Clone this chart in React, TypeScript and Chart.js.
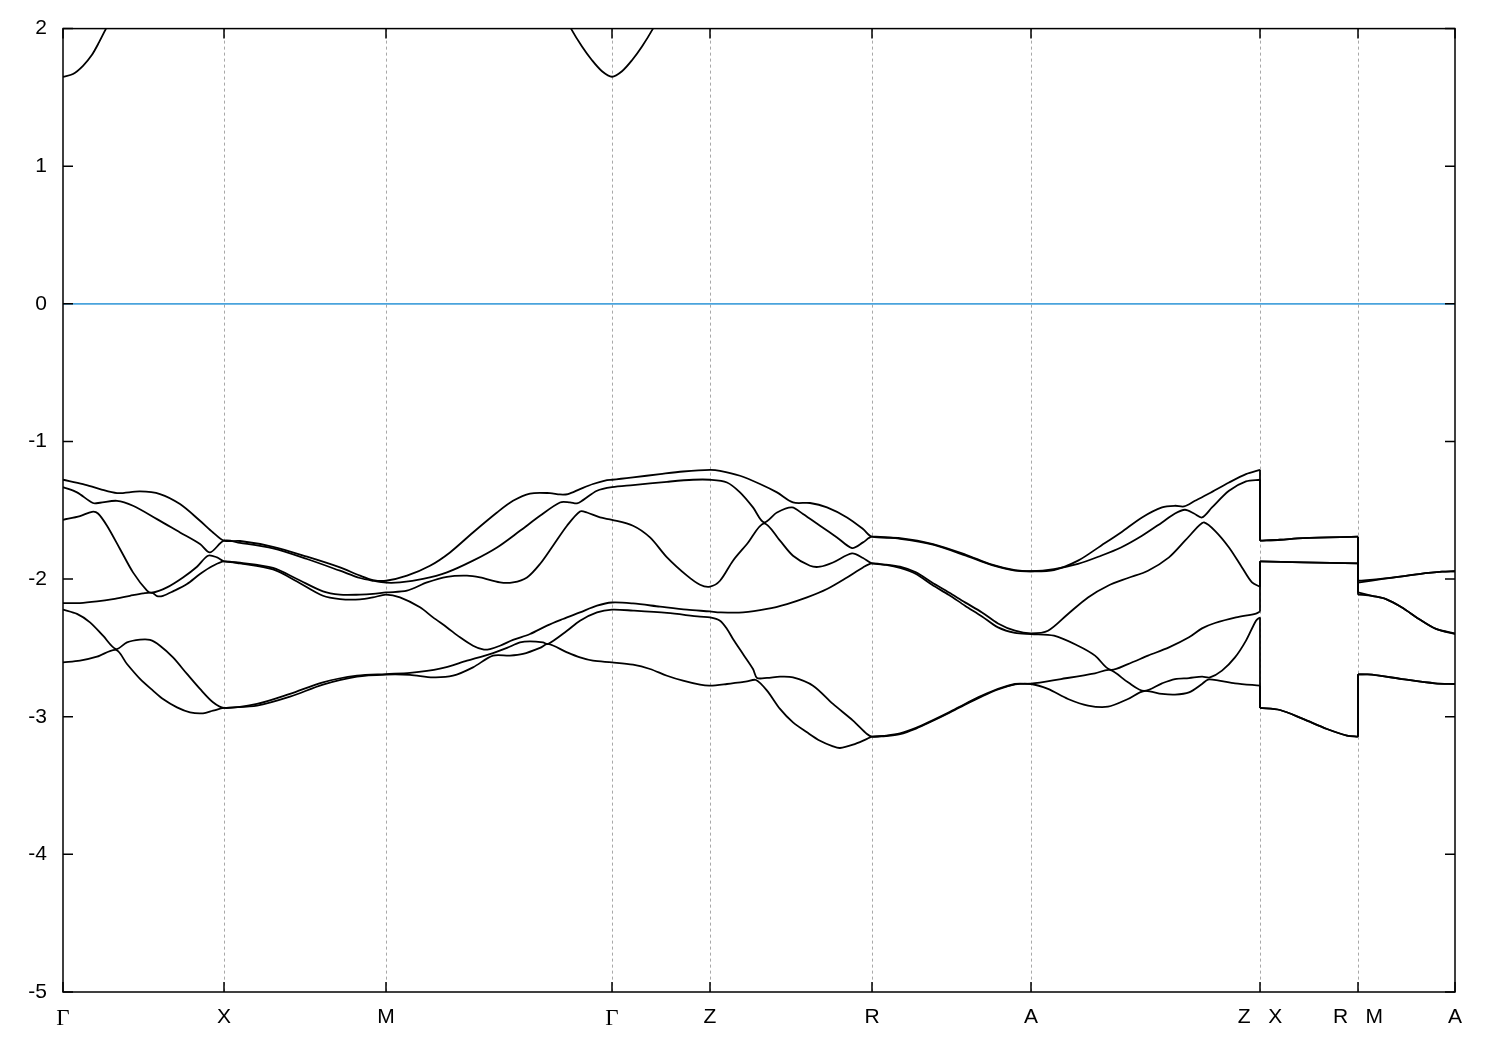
import React, { useEffect, useRef } from 'react';
import { Chart, registerables } from 'chart.js';

Chart.register(...registerables);

// High-symmetry points along the k-path
const kTicks = [0, 161, 323, 549, 647, 809, 968, 1197, 1295, 1392];
const kLabels = ['Γ', 'X', 'M', 'Γ', 'Z', 'R', 'A', 'Z   X', 'R   M', 'A'];
const yTicks = [-5, -4, -3, -2, -1, 0, 1, 2];

// Valence bands (energy in eV vs k-path coordinate)
const band6K = [0, 20, 37, 54, 77, 97, 117, 137, 150, 161, 177, 210, 244, 277, 297, 310, 323, 344, 367, 387, 410, 434, 450, 467, 487, 497, 505, 517, 530, 544, 549, 570, 597, 620, 647, 657, 677, 697, 714, 730, 747, 764, 784, 800, 809, 837, 870, 903, 929, 952, 968, 991, 1015, 1038, 1058, 1079, 1099, 1112, 1121, 1132, 1146, 1166, 1183, 1197, 1197, 1217, 1240, 1295, 1295, 1323, 1356, 1379, 1392];
const band6E = [-1.278, -1.309, -1.346, -1.375, -1.363, -1.382, -1.455, -1.576, -1.661, -1.721, -1.723, -1.765, -1.837, -1.915, -1.975, -2.007, -2.012, -1.975, -1.903, -1.806, -1.661, -1.516, -1.431, -1.378, -1.375, -1.385, -1.382, -1.346, -1.309, -1.28, -1.278, -1.261, -1.237, -1.218, -1.206, -1.213, -1.249, -1.309, -1.37, -1.443, -1.447, -1.479, -1.552, -1.636, -1.692, -1.702, -1.745, -1.823, -1.895, -1.935, -1.943, -1.934, -1.866, -1.757, -1.661, -1.552, -1.479, -1.467, -1.472, -1.431, -1.378, -1.298, -1.237, -1.206, -1.721, -1.714, -1.702, -1.692, -2.012, -1.995, -1.963, -1.946, -1.943];

const band5K = [0, 14, 30, 37, 54, 70, 94, 117, 137, 147, 161, 177, 210, 244, 277, 297, 310, 323, 337, 360, 384, 410, 434, 457, 477, 497, 507, 514, 520, 534, 549, 570, 604, 630, 647, 664, 677, 690, 701, 714, 729, 740, 757, 774, 789, 800, 809, 837, 870, 903, 929, 952, 968, 991, 1015, 1038, 1058, 1079, 1099, 1112, 1122, 1131, 1139, 1149, 1166, 1183, 1197, 1197, 1217, 1240, 1295, 1295, 1323, 1356, 1379, 1392];
const band5E = [-1.332, -1.37, -1.447, -1.445, -1.431, -1.467, -1.564, -1.661, -1.745, -1.806, -1.721, -1.736, -1.777, -1.854, -1.939, -1.992, -2.012, -2.026, -2.024, -1.999, -1.951, -1.866, -1.77, -1.649, -1.54, -1.443, -1.443, -1.45, -1.426, -1.358, -1.332, -1.317, -1.293, -1.278, -1.278, -1.298, -1.37, -1.479, -1.588, -1.516, -1.479, -1.527, -1.612, -1.697, -1.774, -1.733, -1.692, -1.707, -1.75, -1.83, -1.898, -1.938, -1.943, -1.927, -1.89, -1.83, -1.77, -1.685, -1.588, -1.523, -1.496, -1.523, -1.552, -1.479, -1.358, -1.29, -1.278, -1.721, -1.714, -1.702, -1.692, -2.026, -1.995, -1.963, -1.946, -1.943];

const band4K = [0, 17, 29, 35, 44, 57, 70, 84, 89, 104, 120, 134, 145, 154, 161, 177, 210, 234, 260, 277, 297, 310, 323, 344, 364, 384, 404, 417, 437, 450, 464, 477, 490, 504, 517, 524, 537, 549, 570, 587, 604, 624, 637, 647, 657, 670, 684, 701, 717, 730, 747, 757, 770, 789, 800, 809, 823, 837, 853, 869, 886, 902, 919, 935, 952, 968, 985, 1005, 1025, 1045, 1065, 1085, 1106, 1122, 1136, 1141, 1152, 1166, 1179, 1189, 1197, 1197, 1240, 1295, 1295, 1309, 1323, 1339, 1356, 1373, 1392];
const band4E = [-1.569, -1.542, -1.511, -1.523, -1.612, -1.781, -1.951, -2.084, -2.099, -2.06, -1.988, -1.91, -1.83, -1.842, -1.871, -1.881, -1.919, -1.999, -2.089, -2.113, -2.113, -2.108, -2.097, -2.084, -2.024, -1.983, -1.975, -1.988, -2.024, -2.024, -1.988, -1.89, -1.757, -1.612, -1.508, -1.516, -1.552, -1.569, -1.612, -1.697, -1.842, -1.975, -2.041, -2.055, -2.012, -1.866, -1.745, -1.595, -1.721, -1.83, -1.903, -1.91, -1.879, -1.813, -1.847, -1.886, -1.895, -1.91, -1.951, -2.024, -2.097, -2.169, -2.242, -2.322, -2.375, -2.394, -2.375, -2.253, -2.133, -2.048, -1.992, -1.939, -1.842, -1.721, -1.612, -1.588, -1.649, -1.77, -1.915, -2.024, -2.055, -1.871, -1.879, -1.886, -2.097, -2.121, -2.145, -2.206, -2.29, -2.362, -2.394];

const band3K = [0, 17, 34, 50, 67, 80, 89, 94, 100, 110, 124, 137, 150, 161, 177, 210, 234, 260, 277, 297, 310, 323, 337, 357, 370, 384, 397, 410, 420, 427, 437, 450, 467, 484, 500, 517, 534, 549, 570, 597, 624, 647, 657, 680, 704, 724, 744, 764, 784, 800, 809, 823, 837, 853, 869, 886, 902, 919, 935, 952, 968, 991, 1015, 1032, 1047, 1065, 1085, 1106, 1126, 1139, 1152, 1173, 1193, 1197, 1197, 1240, 1295, 1295, 1309, 1323, 1339, 1356, 1373, 1392];
const band3E = [-2.174, -2.174, -2.162, -2.145, -2.121, -2.104, -2.099, -2.123, -2.121, -2.089, -2.036, -1.963, -1.903, -1.871, -1.886, -1.93, -2.017, -2.121, -2.145, -2.147, -2.133, -2.113, -2.133, -2.205, -2.278, -2.351, -2.423, -2.484, -2.511, -2.508, -2.484, -2.442, -2.399, -2.338, -2.29, -2.242, -2.193, -2.17, -2.177, -2.2, -2.222, -2.235, -2.242, -2.242, -2.217, -2.181, -2.133, -2.072, -1.988, -1.915, -1.886, -1.897, -1.919, -1.963, -2.041, -2.115, -2.193, -2.271, -2.351, -2.391, -2.399, -2.411, -2.484, -2.556, -2.658, -2.617, -2.556, -2.496, -2.423, -2.358, -2.319, -2.278, -2.25, -2.235, -1.871, -1.879, -1.886, -2.113, -2.121, -2.145, -2.206, -2.29, -2.362, -2.399];

const band2K = [0, 14, 27, 40, 53, 64, 77, 87, 97, 110, 124, 137, 150, 161, 194, 227, 260, 294, 323, 347, 377, 404, 430, 444, 457, 467, 480, 485, 504, 517, 534, 549, 570, 604, 637, 647, 657, 664, 670, 680, 690, 694, 704, 717, 730, 750, 770, 790, 804, 809, 823, 837, 853, 869, 886, 902, 919, 935, 952, 968, 998, 1032, 1047, 1065, 1081, 1099, 1112, 1126, 1139, 1147, 1159, 1172, 1183, 1193, 1197, 1197, 1217, 1240, 1264, 1284, 1295, 1295, 1309, 1339, 1372, 1392];
const band2E = [-2.222, -2.253, -2.314, -2.411, -2.508, -2.46, -2.44, -2.442, -2.484, -2.569, -2.689, -2.798, -2.895, -2.936, -2.907, -2.834, -2.75, -2.702, -2.69, -2.682, -2.651, -2.593, -2.537, -2.5, -2.46, -2.452, -2.46, -2.471, -2.375, -2.302, -2.242, -2.222, -2.229, -2.246, -2.273, -2.278, -2.302, -2.362, -2.435, -2.544, -2.653, -2.718, -2.718, -2.709, -2.714, -2.774, -2.907, -3.028, -3.125, -3.145, -3.137, -3.121, -3.081, -3.028, -2.968, -2.907, -2.847, -2.798, -2.762, -2.76, -2.726, -2.685, -2.66, -2.75, -2.813, -2.757, -2.726, -2.719, -2.709, -2.714, -2.665, -2.569, -2.447, -2.302, -2.278, -2.936, -2.951, -3.016, -3.089, -3.137, -3.145, -2.69, -2.694, -2.726, -2.757, -2.762];

const band1K = [0, 17, 34, 53, 64, 77, 90, 100, 114, 127, 140, 150, 161, 194, 227, 260, 294, 323, 347, 370, 390, 410, 430, 447, 460, 477, 485, 504, 517, 530, 549, 570, 587, 604, 620, 637, 647, 664, 684, 693, 704, 717, 730, 744, 757, 770, 777, 790, 804, 809, 823, 837, 853, 869, 886, 902, 919, 935, 952, 968, 985, 1005, 1025, 1045, 1065, 1081, 1099, 1112, 1126, 1139, 1145, 1156, 1172, 1197, 1197, 1217, 1240, 1264, 1284, 1295, 1295, 1309, 1339, 1372, 1392];
const band1E = [-2.605, -2.593, -2.564, -2.515, -2.617, -2.725, -2.81, -2.871, -2.932, -2.968, -2.975, -2.956, -2.936, -2.919, -2.854, -2.767, -2.709, -2.694, -2.696, -2.714, -2.702, -2.641, -2.556, -2.556, -2.544, -2.5, -2.471, -2.532, -2.569, -2.593, -2.605, -2.622, -2.653, -2.702, -2.738, -2.767, -2.774, -2.762, -2.743, -2.733, -2.81, -2.943, -3.041, -3.113, -3.174, -3.215, -3.227, -3.203, -3.161, -3.145, -3.14, -3.126, -3.086, -3.033, -2.973, -2.912, -2.852, -2.802, -2.765, -2.762, -2.798, -2.871, -2.919, -2.927, -2.871, -2.813, -2.834, -2.839, -2.823, -2.762, -2.73, -2.738, -2.757, -2.774, -2.936, -2.951, -3.016, -3.089, -3.137, -3.145, -2.694, -2.694, -2.726, -2.757, -2.762];

// Lowest conduction band (only visible near Γ)
const cond1K = [0, 10, 20, 29, 36, 43, 52];
const cond1E = [1.65, 1.67, 1.73, 1.81, 1.9, 2.0, 2.13];
const cond2K = [500, 508, 519, 529, 539, 549, 559, 569, 579, 590, 598];
const cond2E = [2.12, 2.0, 1.87, 1.77, 1.69, 1.65, 1.69, 1.77, 1.87, 2.0, 2.11];

// Fermi level
const fermiK = [0, 1392];
const fermiE = [0, 0];

const valenceBands: [number[], number[]][] = [
  [band1K, band1E],
  [band2K, band2E],
  [band3K, band3E],
  [band4K, band4E],
  [band5K, band5E],
  [band6K, band6E],
];

type Pt = { x: number; y: number };

// Split a band at path discontinuities (repeated k): smooth pieces + straight connectors
function splitBand(k: number[], e: number[]) {
  const pieces: Pt[][] = [];
  const connectors: Pt[][] = [];
  let cur: Pt[] = [];
  for (let i = 0; i < k.length; i++) {
    if (i > 0 && k[i] === k[i - 1]) {
      pieces.push(cur);
      connectors.push([{ x: k[i - 1], y: e[i - 1] }, { x: k[i], y: e[i] }]);
      cur = [];
    }
    cur.push({ x: k[i], y: e[i] });
  }
  pieces.push(cur);
  return { pieces, connectors };
}

const gnuplotAxes = {
  id: 'gnuplotAxes',
  beforeDatasetsDraw(chart: any) {
    const { ctx, chartArea: a, scales } = chart;
    const x = scales.x;
    ctx.save();
    ctx.strokeStyle = '#a8a8a8';
    ctx.lineWidth = 1;
    ctx.setLineDash([3, 3]);
    kTicks.slice(1, -1).forEach((k) => {
      const px = Math.round(x.getPixelForValue(k)) + 0.5;
      ctx.beginPath();
      ctx.moveTo(px, a.top);
      ctx.lineTo(px, a.bottom);
      ctx.stroke();
    });
    ctx.restore();
  },
  afterDatasetsDraw(chart: any) {
    const { ctx, chartArea: a, scales } = chart;
    const x = scales.x;
    const y = scales.y;
    const L = 10;
    ctx.save();
    ctx.strokeStyle = '#000';
    ctx.lineWidth = 1.5;
    ctx.setLineDash([]);
    ctx.strokeRect(a.left, a.top, a.right - a.left, a.bottom - a.top);
    ctx.beginPath();
    yTicks.forEach((v) => {
      const py = y.getPixelForValue(v);
      ctx.moveTo(a.left, py);
      ctx.lineTo(a.left + L, py);
      ctx.moveTo(a.right, py);
      ctx.lineTo(a.right - L, py);
    });
    kTicks.forEach((k) => {
      const px = x.getPixelForValue(k);
      ctx.moveTo(px, a.bottom);
      ctx.lineTo(px, a.bottom - L);
      ctx.moveTo(px, a.top);
      ctx.lineTo(px, a.top + L);
    });
    ctx.stroke();
    ctx.restore();
  },
};

export default function App() {
  const canvasRef = useRef<HTMLCanvasElement>(null);

  useEffect(() => {
    if (!canvasRef.current) return;
    const line = (data: Pt[], color: string, tension: number, width = 1.8) => ({
      data,
      borderColor: color,
      borderWidth: width,
      showLine: true,
      pointRadius: 0,
      fill: false,
      tension,
    });
    const datasets: any[] = [
      line(fermiK.map((v, i) => ({ x: v, y: fermiE[i] })), '#4aa3dc', 0, 1.8),
    ];
    valenceBands.forEach(([k, e]) => {
      const { pieces, connectors } = splitBand(k, e);
      pieces.forEach((p) => datasets.push(line(p, '#000', 0.3)));
      connectors.forEach((c) => datasets.push(line(c, '#000', 0)));
    });
    datasets.push(line(cond1K.map((v, i) => ({ x: v, y: cond1E[i] })), '#000', 0.3));
    datasets.push(line(cond2K.map((v, i) => ({ x: v, y: cond2E[i] })), '#000', 0.3));

    const chart = new Chart(canvasRef.current, {
      type: 'scatter',
      data: { datasets },
      options: {
        responsive: true,
        maintainAspectRatio: false,
        animation: false,
        layout: { padding: { top: 28, right: 45, bottom: 0, left: 0 } },
        plugins: { legend: { display: false }, tooltip: { enabled: false } },
        scales: {
          x: {
            type: 'linear',
            min: 0,
            max: 1392,
            grid: { display: false, drawTicks: false },
            border: { display: false },
            afterBuildTicks: (scale: any) => {
              scale.ticks = kTicks.map((v) => ({ value: v }));
            },
            afterFit: (scale: any) => {
              scale.height = 58;
            },
            ticks: {
              autoSkip: false,
              maxRotation: 0,
              minRotation: 0,
              padding: 13,
              color: '#000',
              callback: (_v: any, i: number) => kLabels[i],
              font: (c: any) =>
                c.index === 0 || c.index === 3
                  ? { family: '"Liberation Serif", "DejaVu Serif", serif', size: 23 }
                  : { family: '"Liberation Sans", Arial, sans-serif', size: 21 },
            },
          },
          y: {
            type: 'linear',
            min: -5,
            max: 2,
            grid: { display: false, drawTicks: false },
            border: { display: false },
            afterFit: (scale: any) => {
              scale.width = 63;
            },
            ticks: {
              stepSize: 1,
              padding: 16,
              color: '#000',
              font: { family: '"Liberation Sans", Arial, sans-serif', size: 21 },
            },
          },
        },
      } as any,
      plugins: [gnuplotAxes],
    });
    return () => chart.destroy();
  }, []);

  return (
    <div style={{ position: 'fixed', left: 0, top: 0, width: 1500, height: 1050, background: '#fff' }}>
      <canvas ref={canvasRef} />
    </div>
  );
}
